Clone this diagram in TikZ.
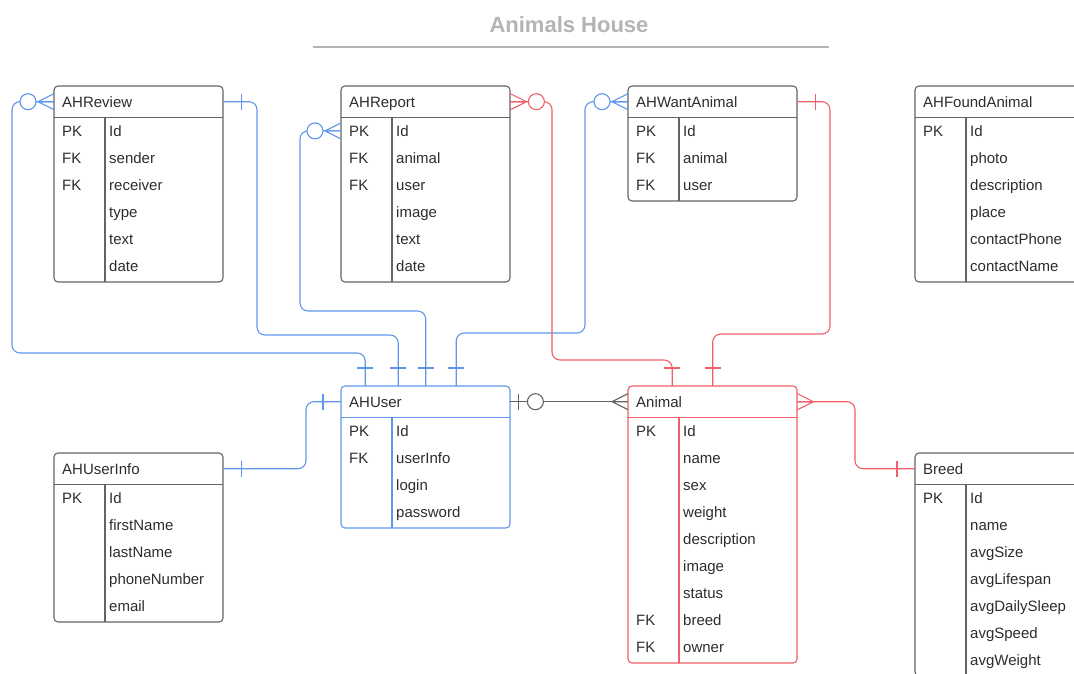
\documentclass[tikz,border=0pt]{standalone}
\usepackage{fontspec}
\setmainfont{Liberation Sans}
\usetikzlibrary{calc}

\definecolor{lublue}{RGB}{95,150,235}
\definecolor{lured}{RGB}{238,95,105}
\definecolor{lugray}{RGB}{100,100,100}
\definecolor{lutext}{RGB}{45,45,45}
\definecolor{lutitle}{RGB}{180,180,180}

% one entity table: name, top left, colour, title, rows, key/field list
\newcommand{\ertable}[6]{%
    \node[tblhead] (#1) at (#2) {#4};
    \draw[tblbox, draw=#3, rounded corners=4pt] (#1.north west) rectangle ++(169,31+#5*27+3);
    \draw[tblbox, draw=#3] (#1.south west) -- (#1.south east);
    \draw[tblbox, draw=#3] ([xshift=51pt]#1.south west) -- ++(0,#5*27+3);
    \foreach \colkey/\colname [count=\i] in {#6}{
        \pgfmathsetmacro\ry{-13.5-27*(\i-1)}
        \node[rowtxt] (#1-\i) at ([xshift=8pt, yshift=\ry pt]#1.south west) {\colkey};
        \node[rowtxt] at ([xshift=55pt, yshift=\ry pt]#1.south west) {\colname};
    }
}

\begin{document}
\begin{tikzpicture}[x=1pt, y=-1pt,
    tblhead/.style={anchor=north west, minimum width=169pt, minimum height=31pt,
        text width=153pt, inner xsep=8pt, inner ysep=0pt, align=left,
        text height=11pt, text depth=0pt, font=\fontsize{15}{18}\selectfont, text=lutext},
    tblbox/.style={line width=1.1pt},
    rowtxt/.style={anchor=west, inner sep=0pt, text height=11pt, text depth=0pt,
        font=\fontsize{15}{18}\selectfont, text=lutext},
    bl/.style={color=lublue, line width=1.1pt},
    rd/.style={color=lured, line width=1.1pt},
    gy/.style={color=lugray, line width=1.1pt},
    link/.style={rounded corners=8pt},
    one/.pic={\draw (18,-8) -- (18,8);},
    zone/.pic={\draw (8,-8) -- (8,8); \draw[fill=white] (25,0) circle (8);},
    many/.pic={\draw (0,-8) -- (16,0) -- (0,8) (0,0) -- (16,0);},
    zmany/.pic={\draw (0,-8) -- (16,0) -- (0,8) (0,0) -- (16,0); \draw[fill=white] (26,0) circle (8);}]

    \useasboundingbox (0,0) rectangle (1074,673);
    \clip (0,0) rectangle (1074,673);

    % title
    \node[font=\bfseries\fontsize{22}{26}\selectfont, text=lutitle] (title) at (569,25) {Animals House};
    \draw[lutitle, line width=1.5pt] (313,47) -- (829,47);

    % tables
    \ertable{review}{54,86}{lugray}{AHReview}{6}{PK/Id, FK/sender, FK/receiver, /type, /text, /date}
    \ertable{report}{341,86}{lugray}{AHReport}{6}{PK/Id, FK/animal, FK/user, /image, /text, /date}
    \ertable{want}{628,86}{lugray}{AHWantAnimal}{3}{PK/Id, FK/animal, FK/user}
    \ertable{found}{915,86}{lugray}{AHFoundAnimal}{6}{PK/Id, /photo, /description, /place, /contactPhone, /contactName}
    \ertable{user}{341,386}{lublue}{AHUser}{4}{PK/Id, FK/userInfo, /login, /password}
    \ertable{info}{54,453}{lugray}{AHUserInfo}{5}{PK/Id, /firstName, /lastName, /phoneNumber, /email}
    \ertable{animal}{628,386}{lured}{Animal}{9}{PK/Id, /name, /sex, /weight, /description, /image, /status, FK/breed, FK/owner}
    \ertable{breed}{915,453}{lugray}{Breed}{7}{PK/Id, /name, /avgSize, /avgLifespan, /avgDailySleep, /avgSpeed, /avgWeight}

    % links to AHUser
    \draw[bl, link] (review.west) -| (12,353) -| ([xshift=-60.5pt]user.north);
    \draw[bl, link] (review.east) -| (257,335) -| ([xshift=-27.5pt]user.north);
    \draw[bl, link] (report.west |- report-1) -| (300,311) -| (user.north);
    \draw[bl, link] (want.west) -| (585,333) -| ([xshift=30.5pt]user.north);
    \draw[bl, link] (info.east) -| ([xshift=-35pt]user.west) -- (user.west);

    % links to Animal
    \draw[rd, link] (report.east) -| (552,360) -| ([xshift=-40.5pt]animal.north);
    \draw[rd, link] (want.east) -| (830,334) -| (animal.north);
    \draw[rd, link] (animal.east) -| ([xshift=-60pt]breed.west) -- (breed.west);
    \draw[gy] (user.east) -- (animal.west);

    % ends
    \pic[bl, rotate=180] at (review.west) {zmany};
    \pic[bl] at (review.east) {one};
    \pic[bl, rotate=180] at (report.west |- report-1) {zmany};
    \pic[rd] at (report.east) {zmany};
    \pic[bl, rotate=180] at (want.west) {zmany};
    \pic[rd] at (want.east) {one};
    \foreach \dx in {-60.5,-27.5,0,30.5}
        \pic[bl, rotate=90] at ([xshift=\dx pt]user.north) {one};
    \foreach \dx in {-40.5,0}
        \pic[rd, rotate=90] at ([xshift=\dx pt]animal.north) {one};
    \pic[gy] at (user.east) {zone};
    \pic[gy, rotate=180] at (animal.west) {many};
    \pic[bl] at (info.east) {one};
    \pic[bl, rotate=180] at (user.west) {one};
    \pic[rd] at (animal.east) {many};
    \pic[rd, rotate=180] at (breed.west) {one};

\end{tikzpicture}
\end{document}
